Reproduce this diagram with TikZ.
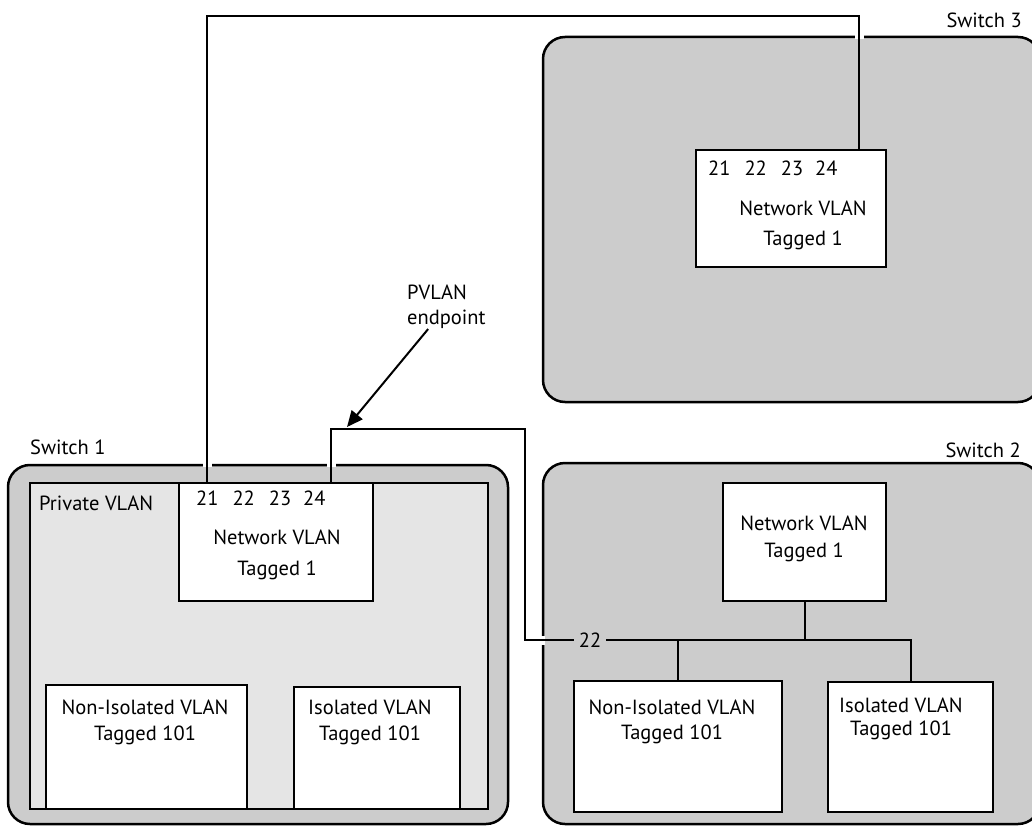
\documentclass[tikz,border=0pt]{standalone}
\usepackage{fontspec}
\setmainfont{PT Sans}
\usepackage{xcolor}
\usepackage{tikz}
\usetikzlibrary{arrows.meta, positioning, calc}
\definecolor{switchgrey}{RGB}{204,204,204}
\definecolor{pvlangrey}{RGB}{229,229,229}

\tikzset{
    switchbox/.style={draw, line width=2.5pt, fill=switchgrey, rounded corners=22pt,
        inner sep=0pt, outer sep=0pt, anchor=north west},
    pvlanbox/.style={draw, line width=2.5pt, fill=pvlangrey,
        inner sep=0pt, outer sep=0pt, anchor=north west},
    vlanbox/.style={draw, line width=2.5pt, fill=white,
        inner sep=0pt, outer sep=0pt, anchor=north west},
    txt/.style={inner sep=0pt, font=\fontsize{20.5}{#1}\selectfont},
    txt/.default=27,
    cable/.style={line width=2.3pt},
    wire/.style={line width=2pt},
    pointer/.style={line width=2pt, -{Triangle[length=16pt, width=14pt]}}
}

\newcommand{\portrow}{21\hspace{14pt}22\hspace{14pt}23\hspace{12pt}24}

\begin{document}
\begin{tikzpicture}[x=1pt, y=-1pt]

        \useasboundingbox (0,0) rectangle (1032,826);
        \clip (0,0) rectangle (1032,826);

        % switch frames
        \node[switchbox, minimum width=500pt, minimum height=359pt] (sw1) at (8,465) {};
        \node[switchbox, minimum width=497pt, minimum height=361pt] (sw2) at (543,463) {};
        \node[switchbox, minimum width=497pt, minimum height=365pt] (sw3) at (543,37) {};
        \node[pvlanbox, minimum width=458pt, minimum height=326pt] (pvlan) at (30,483) {};

        \node[txt, anchor=base west] (sw1label) at (30,454) {Switch 1};
        \node[txt, anchor=base east] (sw2label) at (1021,457) {Switch 2};
        \node[txt, anchor=base east] (sw3label) at (1022,28) {Switch 3};
        \node[txt, anchor=base west] (pvlanlabel) at (39,510) {Private VLAN};

        % trunk cables
        \coordinate (s1p21) at (207,483);
        \coordinate (s1p24) at (331,483);
        \coordinate (s3p) at (859,150);
        \coordinate (uplink) at (525,429);
        \node[txt, inner xsep=5pt] (port22) at (590,640) {22};

        \fill[white] (s1p21 |- sw1.north) ++(-4.5,-2) rectangle ++(9,4);
        \fill[white] (s1p24 |- sw1.north) ++(-4.5,-2) rectangle ++(9,4);
        \fill[white] (s3p |- sw3.north) ++(-4.5,-2) rectangle ++(9,4);
        \fill[white] (sw2.west |- port22) ++(-2,-4.5) rectangle ++(4,9);

        \draw[cable] (s1p21) -- ++(0,-467) -| (s3p);
        \draw[cable] (s1p24) |- (uplink) |- (port22);

        % vlans
        \node[vlanbox, minimum width=194pt, minimum height=118pt] (s1net) at (179,483) {};
        \node[vlanbox, minimum width=201pt, minimum height=124pt] (s1noniso) at (46,685) {};
        \node[vlanbox, minimum width=166pt, minimum height=122pt] (s1iso) at (294,687) {};
        \node[vlanbox, minimum width=190pt, minimum height=117pt] (s3net) at (696,150) {};
        \node[vlanbox, minimum width=163pt, minimum height=118pt] (s2net) at (723,483) {};
        \node[vlanbox, minimum width=208pt, minimum height=131pt] (s2noniso) at (574,681) {};
        \node[vlanbox, minimum width=165pt, minimum height=130pt] (s2iso) at (828,682) {};

        \node[txt, anchor=base west] (s1ports) at (196,505) {\portrow};
        \node[txt, anchor=base west] (s3ports) at (708,176) {\portrow};

        \node[txt=31, align=center] (s1nettext) at (277,555) {Network VLAN\\Tagged 1};
        \node[txt=30, align=center] (s3nettext) at (803,225) {Network VLAN\\Tagged 1};
        \node[txt=27, align=center] (s2nettext) at (804,539) {Network VLAN\\Tagged 1};
        \node[txt=26, align=center] (s1nonisotext) at (145,722) {Non-Isolated VLAN\\Tagged 101};
        \node[txt=26, align=center] (s1isotext) at (370,722) {Isolated VLAN\\Tagged 101};
        \node[txt=25, align=center] (s2nonisotext) at (672,722) {Non-Isolated VLAN\\Tagged 101};
        \node[txt=23, align=center] (s2isotext) at (901,719) {Isolated VLAN\\Tagged 101};

        % switch 2 fan-out
        \draw[wire] (s2net) -- (s2net.south |- port22);
        \draw[wire] (port22) -| (s2iso);
        \draw[wire] (s2noniso) -- (s2noniso.north |- port22);

        % endpoint callout
        \node[txt=25, align=left, anchor=west] (pvlabel) at (407,307) {PVLAN\\endpoint};
        \coordinate (pvtip) at (347,427);
        \draw[pointer] (pvlabel) -- (pvtip);

    \end{tikzpicture}
\end{document}
